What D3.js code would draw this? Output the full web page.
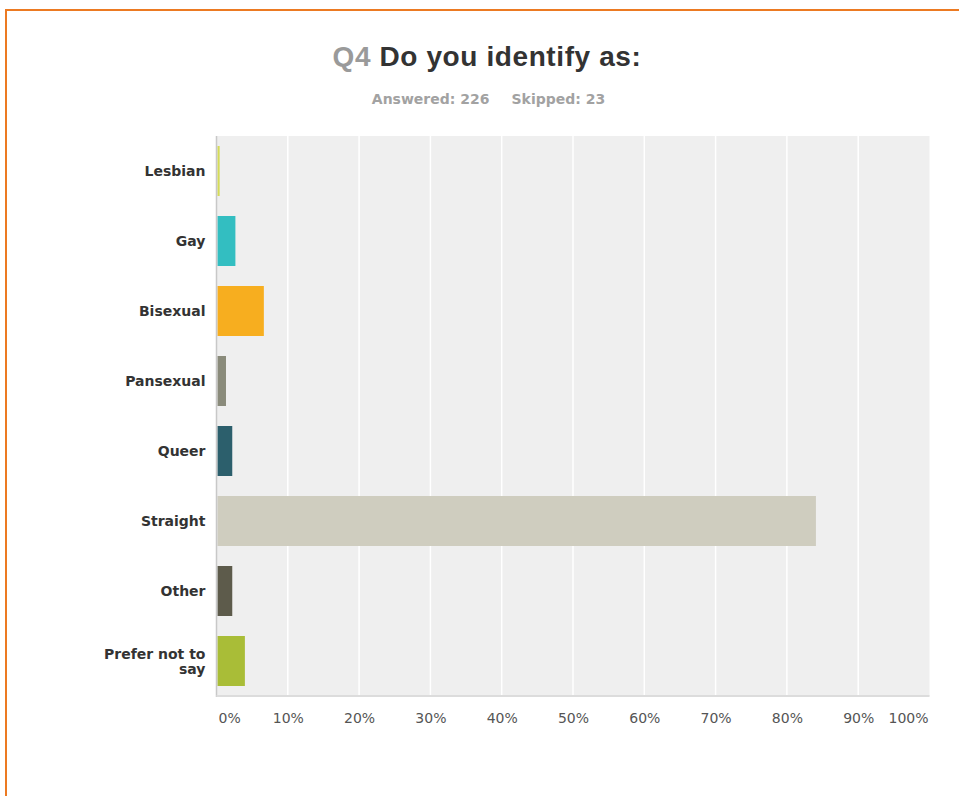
<!DOCTYPE html>
<html>
<head>
<meta charset="utf-8">
<script src="https://cdn.jsdelivr.net/npm/d3@7"></script>
<style>
  html, body { margin: 0; padding: 0; background: #fff; }
  svg { display: block; font-family: "DejaVu Sans", Verdana, sans-serif; }
</style>
</head>
<body>
<svg id="chart" width="959" height="796"></svg>
<script>
// Survey question Q4: share of respondents per answer choice (percent)
const categories = ["Lesbian", "Gay", "Bisexual", "Pansexual", "Queer", "Straight", "Other", "Prefer not to say"];
const percents   = [0.44, 2.65, 6.64, 1.33, 2.21, 84.07, 2.21, 3.98];
const barColors  = ["#d5dc57", "#33bec1", "#f7ae1f", "#8a8b7b", "#2c5f6c", "#cfcdbf", "#5d5b4b", "#a9bd37"];
const tickValues = [0, 10, 20, 30, 40, 50, 60, 70, 80, 90, 100];
const answered = 226, skipped = 23;

const svg = d3.select("#chart");

// Orange frame along the top and left
svg.append("line").attr("x1", 6).attr("x2", 959).attr("y1", 10).attr("y2", 10)
  .attr("stroke", "#ec7a22").attr("stroke-width", 2);
svg.append("line").attr("x1", 6).attr("x2", 6).attr("y1", 9).attr("y2", 796)
  .attr("stroke", "#ec7a22").attr("stroke-width", 2);

// Title
const title = svg.append("text").attr("x", 487).attr("y", 66)
  .attr("text-anchor", "middle").attr("font-size", 28).attr("font-weight", "bold")
  .attr("font-family", "'Liberation Sans', Arial, sans-serif").attr("letter-spacing", 0.6);
title.append("tspan").attr("fill", "#9a9a9a").text("Q4 ");
title.append("tspan").attr("fill", "#333").text("Do you identify as:");

const sub = svg.append("text").attr("x", 488.5).attr("y", 104)
  .attr("text-anchor", "middle").attr("font-size", 14).attr("font-weight", "bold").attr("fill", "#a2a2a2");
sub.append("tspan").text(`Answered: ${answered}`);
sub.append("tspan").attr("dx", 22).text(`Skipped: ${skipped}`);

// Plot area
const plotLeft = 216.5, plotRight = 929.5, plotTop = 136, plotBottom = 696;
const x = d3.scaleLinear().domain([0, 100]).range([plotLeft, plotRight]);
const y = d3.scaleBand().domain(categories).range([plotTop, plotBottom])
  .paddingInner(2 / 7).paddingOuter(1 / 7);

svg.append("rect").attr("x", plotLeft).attr("y", plotTop)
  .attr("width", plotRight - plotLeft).attr("height", plotBottom - plotTop).attr("fill", "#efefef");

// Vertical gridlines
svg.append("g").selectAll("line")
  .data(tickValues.filter(v => v > 0 && v < 100))
  .join("line")
  .attr("x1", d => x(d)).attr("x2", d => x(d))
  .attr("y1", plotTop).attr("y2", plotBottom)
  .attr("stroke", "#fff").attr("stroke-width", 1.5);

// Bars
svg.append("g").selectAll("rect")
  .data(categories.map((c, i) => ({ c, v: percents[i], color: barColors[i] })))
  .join("rect")
  .attr("x", x(0) + 1)
  .attr("y", d => y(d.c))
  .attr("width", d => Math.max(0, x(d.v) - x(0) - 1))
  .attr("height", y.bandwidth())
  .attr("fill", d => d.color);

// Axis lines
svg.append("line").attr("x1", plotLeft).attr("x2", plotLeft).attr("y1", plotTop).attr("y2", plotBottom + 1)
  .attr("stroke", "#c8c8c8").attr("stroke-width", 1.5);
svg.append("line").attr("x1", plotLeft).attr("x2", plotRight).attr("y1", plotBottom).attr("y2", plotBottom)
  .attr("stroke", "#dcdcdc").attr("stroke-width", 2);

// Category labels (right-aligned, wrapped where long)
const labelWraps = { "Prefer not to say": ["Prefer not to", "say"] };
const labels = svg.append("g").attr("font-size", 14).attr("font-weight", "bold").attr("fill", "#333")
  .attr("text-anchor", "end");
categories.forEach(c => {
  const lines = labelWraps[c] || [c];
  const cy = y(c) + y.bandwidth() / 2;
  const lh = 15.5;
  const t = labels.append("text").attr("x", 205.5);
  lines.forEach((ln, i) => {
    t.append("tspan").attr("x", 205.5)
      .attr("y", cy + 5.25 + (i - (lines.length - 1) / 2) * lh)
      .text(ln);
  });
});

// X tick labels
const xAxis = d3.axisBottom(x).tickValues(tickValues).tickFormat(d => d + "%").tickSize(0).tickPadding(0);
const gx = svg.append("g").attr("transform", `translate(0,${plotBottom + 17})`).call(xAxis);
gx.select(".domain").remove();
gx.selectAll("text")
  .attr("font-size", 14).attr("fill", "#555").attr("font-family", "'DejaVu Sans', Verdana, sans-serif")
  .attr("text-anchor", d => d === 0 ? "start" : d === 100 ? "end" : "middle")
  .attr("dx", d => d === 0 ? 1.5 : d === 100 ? -1.5 : 0);
</script>
</body>
</html>
